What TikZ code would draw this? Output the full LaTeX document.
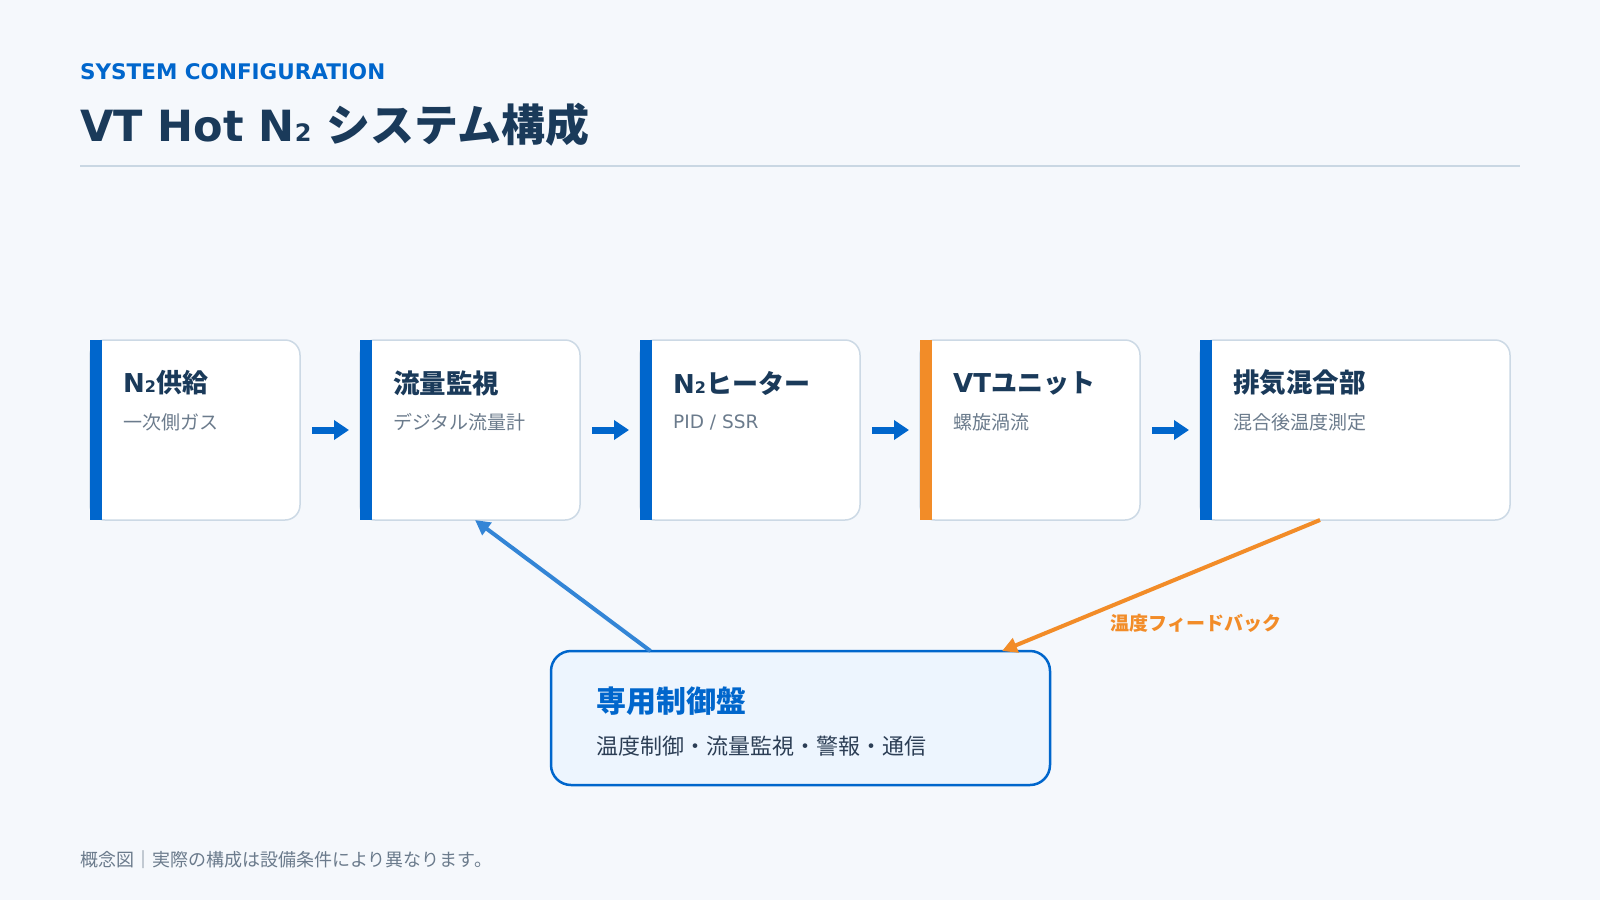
\documentclass[tikz,border=0pt]{standalone}
\usepackage{fontspec}
\setmainfont{DejaVu Sans}
\newfontfamily\jp{Noto Sans CJK JP}
\usetikzlibrary{arrows.meta}
\definecolor{bg}{HTML}{F5F8FC}
\definecolor{navy}{HTML}{1A3A5A}
\definecolor{mainblue}{HTML}{0066CC}
\definecolor{orng}{HTML}{F28C28}
\definecolor{graytxt}{HTML}{6B7B8C}
\definecolor{cardline}{HTML}{CCD9E5}
\definecolor{rulecol}{HTML}{C9D7E3}
\definecolor{lightarrow}{HTML}{3385D6}
\definecolor{ctrlfill}{HTML}{EDF5FE}
\definecolor{ctrltxt}{HTML}{2C3E55}
\newcommand\fs[1]{\fontsize{#1}{#1}\selectfont}
\newcommand\ntwo[1]{N{\fs{#1}2}}
\begin{document}
\begin{tikzpicture}[x=1pt,y=-1pt,
  card/.style={draw=cardline, line width=1.5pt, fill=white, rounded corners=15pt,
    inner sep=0pt, outer sep=0pt, minimum height=180pt},
  cardtitle/.style={anchor=west, inner sep=0pt, text=navy, font=\fs{26}\bfseries},
  cardsub/.style={anchor=west, inner sep=0pt, text=graytxt, font=\jp\fs{19}},
  flow/.style={draw=mainblue, line width=7pt, -{Triangle[length=15pt,width=19pt]}},
  fbblue/.style={draw=lightarrow, line width=4pt, -{Triangle[length=15pt,width=15pt]}},
  fborange/.style={draw=orng, line width=4pt, -{Triangle[length=15pt,width=15pt]}},
  ctrlbox/.style={draw=mainblue, line width=2.5pt, fill=ctrlfill, rounded corners=20pt,
    inner sep=0pt, outer sep=0pt, minimum width=499pt, minimum height=134pt}]
\useasboundingbox (0,0) rectangle (1600,900);
\fill[bg] (0,0) rectangle (1600,900);

% header
\node[anchor=base west, inner sep=0pt, text=mainblue, font=\fs{21.5}\bfseries] (kicker) at (80,79) {SYSTEM CONFIGURATION};
\node[anchor=base west, inner sep=0pt, text=navy, font=\fs{43}\bfseries] (title) at (80,141) {VT Hot \ntwo{24} {\jp\fs{44}システム構成}};
\draw[rulecol, line width=2pt] (80,166) -- (1520,166);

% cards
\node[card, minimum width=210pt] (b1) at (195,430) {};
\node[card, minimum width=220pt] (b2) at (470,430) {};
\node[card, minimum width=220pt] (b3) at (750,430) {};
\node[card, minimum width=220pt] (b4) at (1030,430) {};
\node[card, minimum width=310pt] (b5) at (1355,430) {};
\foreach \b in {b1,b2,b3,b5}{\fill[mainblue] (\b.north west) rectangle ([xshift=12pt]\b.south west);}
\fill[orng] (b4.north west) rectangle ([xshift=12pt]b4.south west);

\node[cardtitle] (t1) at ([xshift=33pt,yshift=-43pt]b1.north west) {\ntwo{16}{\jp 供給}};
\node[cardsub] (s1) at ([xshift=33pt,yshift=-82pt]b1.north west) {一次側ガス};
\node[cardtitle] (t2) at ([xshift=33pt,yshift=-43pt]b2.north west) {\jp\fs{26.5}流量監視};
\node[cardsub] (s2) at ([xshift=33pt,yshift=-82pt]b2.north west) {デジタル流量計};
\node[cardtitle] (t3) at ([xshift=33pt,yshift=-43pt]b3.north west) {\ntwo{16}{\jp ヒーター}};
\node[cardsub, font=\fs{18.5}] (s3) at ([xshift=33pt,yshift=-82pt]b3.north west) {PID / SSR};
\node[cardtitle] (t4) at ([xshift=33pt,yshift=-43pt]b4.north west) {VT{\jp ユニット}};
\node[cardsub] (s4) at ([xshift=33pt,yshift=-82pt]b4.north west) {螺旋渦流};
\node[cardtitle] (t5) at ([xshift=33pt,yshift=-43pt]b5.north west) {\jp\fs{26.5}排気混合部};
\node[cardsub] (s5) at ([xshift=33pt,yshift=-82pt]b5.north west) {混合後温度測定};

% flow arrows
\draw[flow] ([xshift=12pt]b1.east) -- ([xshift=-11pt]b2.west);
\draw[flow] ([xshift=12pt]b2.east) -- ([xshift=-11pt]b3.west);
\draw[flow] ([xshift=12pt]b3.east) -- ([xshift=-11pt]b4.west);
\draw[flow] ([xshift=12pt]b4.east) -- ([xshift=-11pt]b5.west);

% control box
\node[ctrlbox] (c) at (800.5,718) {};
\node[anchor=west, inner sep=0pt, text=mainblue, font=\jp\fs{30}\bfseries] (ct) at ([xshift=45pt,yshift=-50pt]c.north west) {専用制御盤};
\node[anchor=west, inner sep=0pt, text=ctrltxt, font=\jp\fs{22}] (cs) at ([xshift=45pt,yshift=-95pt]c.north west) {温度制御・流量監視・警報・通信};

% feedback connectors
\draw[fbblue] ([xshift=-150pt]c.north) -- ([xshift=5pt]b2.south);
\draw[fborange] ([xshift=-35pt]b5.south) -- ([xshift=-48pt]c.north east);
\node[inner sep=0pt, text=orng, font=\jp\fs{19}\bfseries] (fbl) at (1196,623) {温度フィードバック};

% footer
\node[anchor=west, inner sep=0pt, text=graytxt, font=\jp\fs{18}] (foot) at (80,860) {概念図｜実際の構成は設備条件により異なります。};
\end{tikzpicture}
\end{document}
